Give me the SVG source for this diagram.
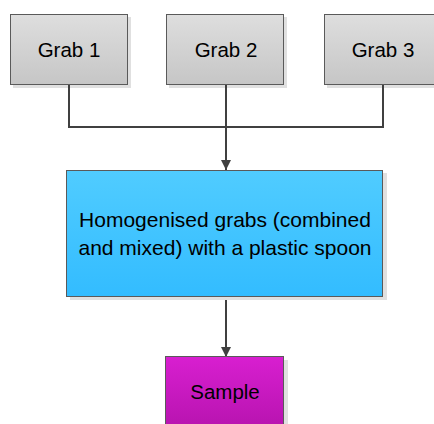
<svg xmlns="http://www.w3.org/2000/svg" width="434" height="424" viewBox="0 0 434 424">
<defs>
<linearGradient id="gGrey" x1="0" y1="0" x2="0" y2="1"><stop offset="0" stop-color="#dedede"/><stop offset="1" stop-color="#c6c6c6"/></linearGradient>
<linearGradient id="gBlue" x1="0" y1="0" x2="0" y2="1"><stop offset="0" stop-color="#50ccff"/><stop offset="1" stop-color="#33bcff"/></linearGradient>
<linearGradient id="gMag" x1="0" y1="0" x2="0" y2="1"><stop offset="0" stop-color="#d81fd0"/><stop offset="1" stop-color="#b814b0"/></linearGradient>
<marker id="arr" markerWidth="10" markerHeight="12" refX="12" refY="6" orient="auto" markerUnits="userSpaceOnUse" viewBox="0 0 12 12"><path d="M0,0 L12,6 L0,12 Z" fill="#404040"/></marker>
</defs>
<style>
.box{stroke:#5a5a5a;stroke-width:1}
.shadow{fill:#e0e0e0}
.lbl{font-family:"Liberation Sans",Arial,sans-serif;font-size:20.5px;fill:#000;text-anchor:middle}
.con{fill:none;stroke:#404040;stroke-width:2}
</style>
<rect width="434" height="424" fill="#fff"/>
<g id="grab1"><rect class="shadow" x="13" y="17" width="118" height="71"/><rect class="box" x="10.5" y="14.5" width="117" height="70" fill="url(#gGrey)"/><text class="lbl" x="69" y="57">Grab 1</text></g>
<g id="grab2"><rect class="shadow" x="169" y="17" width="118" height="71"/><rect class="box" x="166.5" y="14.5" width="117" height="70" fill="url(#gGrey)"/><text class="lbl" x="226" y="57">Grab 2</text></g>
<g id="grab3"><rect class="shadow" x="327" y="17" width="118" height="71"/><rect class="box" x="324.5" y="14.5" width="117" height="70" fill="url(#gGrey)"/><text class="lbl" x="383" y="57">Grab 3</text></g>
<g id="connectors">
<path class="con" d="M69,85 V127 H383 V85"/>
<path class="con" d="M226,85 V170" marker-end="url(#arr)"/>
<path class="con" d="M226,297 V357" marker-end="url(#arr)"/>
</g>
<g id="homogenise"><rect class="shadow" x="70" y="173" width="317" height="127"/><rect class="box" x="66.5" y="170.5" width="316" height="126" fill="url(#gBlue)"/><text class="lbl" x="225" y="227" style="font-size:21px">Homogenised grabs (combined</text><text class="lbl" x="225" y="255" style="font-size:21px">and mixed) with a plastic spoon</text></g>
<g id="sample"><rect class="shadow" x="169" y="360" width="119" height="70"/><rect class="box" x="165.5" y="356.5" width="118" height="70" fill="url(#gMag)"/><text class="lbl" x="225" y="399">Sample</text></g>
</svg>
